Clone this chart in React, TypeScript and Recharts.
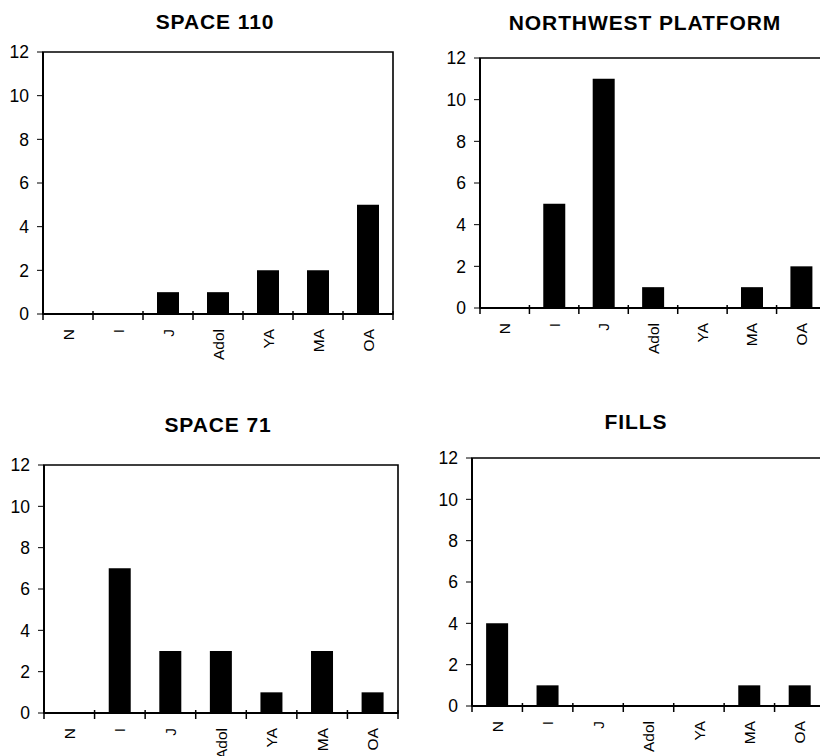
import React from "react";
import { BarChart, Bar, XAxis, YAxis, ReferenceArea } from "recharts";

const categories = ["N", "I", "J", "Adol", "YA", "MA", "OA"];
const space110 = [0, 0, 1, 1, 2, 2, 5];
const northwestPlatform = [0, 5, 11, 1, 0, 1, 2];
const space71 = [0, 7, 3, 3, 1, 3, 1];
const fills = [4, 1, 0, 0, 0, 1, 1];
const yTicks = [0, 2, 4, 6, 8, 10, 12];

const FONT = '"Liberation Sans", Arial, Helvetica, sans-serif';

const CatTick = (props: any) => {
  const { x, y, payload, index, band } = props;
  const half = payload && typeof payload.offset === "number" && payload.offset > 0 ? payload.offset : band / 2;
  const left = x - half;
  const right = x + half;
  return (
    <g>
      <line x1={left} x2={left} y1={y - 3} y2={y + 6} stroke="#000" strokeWidth={1.5} />
      {index === categories.length - 1 && (
        <line x1={right} x2={right} y1={y - 3} y2={y + 6} stroke="#000" strokeWidth={1.5} />
      )}
      <text
        x={x}
        y={y + 15}
        transform={`rotate(-90, ${x}, ${y + 15})`}
        textAnchor="end"
        dy="0.36em"
        fontFamily={FONT}
        fontSize={15.5}
        fill="#000"
      >
        {payload.value}
      </text>
    </g>
  );
};

const ValTick = (props: any) => {
  const { x, y, payload } = props;
  return (
    <text
      x={x}
      y={y}
      textAnchor="end"
      dy="0.36em"
      fontFamily={FONT}
      fontSize={17.5}
      fill="#000"
    >
      {payload.value}
    </text>
  );
};

type PanelProps = {
  title: string;
  values: number[];
  left: number;
  top: number;
  width: number;
  height: number;
  yAxisWidth: number;
  mTop: number;
  mRight: number;
  mBottom: number;
  titleTop: number;
  titleCenter: number;
};

const Panel = (p: PanelProps) => {
  const data = categories.map((c, i) => ({ cat: c, v: p.values[i] }));
  const plotW = p.width - p.yAxisWidth - p.mRight;
  const band = plotW / categories.length;
  return (
    <>
      <div
        style={{
          position: "absolute",
          left: p.titleCenter - 200,
          top: p.titleTop,
          width: 400,
          textAlign: "center",
          fontFamily: FONT,
          fontWeight: 700,
          fontSize: 21,
          letterSpacing: 0.9,
          lineHeight: "24px",
          color: "#000",
        }}
      >
        {p.title}
      </div>
      <div style={{ position: "absolute", left: p.left, top: p.top }}>
        <BarChart
          width={p.width}
          height={p.height}
          data={data}
          margin={{ top: p.mTop, right: p.mRight, bottom: 0, left: 0 }}
          barCategoryGap="28%"
        >
          <XAxis
            dataKey="cat"
            xAxisId="b"
            height={p.mBottom}
            interval={0}
            tickSize={0}
            tickMargin={0}
            tickLine={false}
            axisLine={{ stroke: "#000", strokeWidth: 2 }}
            tick={<CatTick band={band} />}
          />
          <YAxis
            yAxisId="l"
            width={p.yAxisWidth}
            domain={[0, 12]}
            ticks={yTicks}
            interval={0}
            tickSize={6}
            tickMargin={8}
            tickLine={{ stroke: "#000", strokeWidth: 1 }}
            axisLine={{ stroke: "#000", strokeWidth: 2 }}
            tick={<ValTick />}
          />
          <ReferenceArea
            xAxisId="b"
            yAxisId="l"
            y1={0}
            y2={12}
            fill="none"
            stroke="#000"
            strokeWidth={1.6}
            ifOverflow="visible"
          />
          <Bar dataKey="v" xAxisId="b" yAxisId="l" fill="#000" isAnimationActive={false} />
        </BarChart>
      </div>
    </>
  );
};

export default function App() {
  return (
    <div
      style={{
        position: "fixed",
        left: 0,
        top: 0,
        width: 820,
        height: 756,
        overflow: "hidden",
        background: "#fff",
      }}
    >
      <Panel
        title="SPACE 110"
        values={space110}
        left={0}
        top={0}
        width={410}
        height={378}
        yAxisWidth={43}
        mTop={52}
        mRight={17}
        mBottom={64}
        titleTop={10}
        titleCenter={215}
      />
      <Panel
        title="NORTHWEST PLATFORM"
        values={northwestPlatform}
        left={410}
        top={0}
        width={430}
        height={378}
        yAxisWidth={70}
        mTop={58}
        mRight={14}
        mBottom={70}
        titleTop={11}
        titleCenter={645}
      />
      <Panel
        title="SPACE 71"
        values={space71}
        left={0}
        top={378}
        width={410}
        height={378}
        yAxisWidth={44}
        mTop={87}
        mRight={12}
        mBottom={43}
        titleTop={413}
        titleCenter={218}
      />
      <Panel
        title="FILLS"
        values={fills}
        left={410}
        top={378}
        width={430}
        height={378}
        yAxisWidth={62}
        mTop={80}
        mRight={15}
        mBottom={50}
        titleTop={410}
        titleCenter={636}
      />
    </div>
  );
}
